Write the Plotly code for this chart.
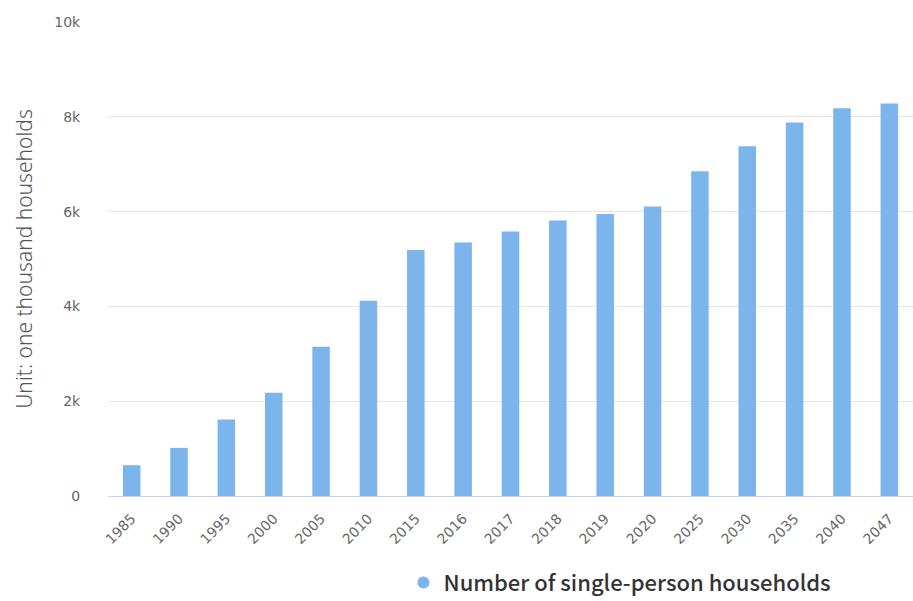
import plotly.graph_objects as go

years = ["1985", "1990", "1995", "2000", "2005", "2010", "2015", "2016", "2017",
         "2018", "2019", "2020", "2025", "2030", "2035", "2040", "2047"]
households = [650, 1015, 1615, 2180, 3150, 4120, 5190, 5350, 5580, 5810, 5950,
              6110, 6850, 7380, 7880, 8180, 8280]
series_name = "Number of single-person households"
y_tickvals = [0, 2000, 4000, 6000, 8000, 10000]
y_ticktext = ["0", "2k", "4k", "6k", "8k", "10k"]
y_title = "Unit: one thousand households"

color = "#7cb5ec"

fig = go.Figure()
fig.add_trace(go.Bar(x=years, y=households, marker_color=color, marker_line_width=0,
                     showlegend=False, name=series_name))
fig.add_trace(go.Scatter(x=[None], y=[None], mode="markers", name=series_name,
                         marker=dict(symbol="circle", size=18, color=color)))

fig.update_layout(
    width=913, height=601,
    margin=dict(l=108, r=0, t=22, b=105, autoexpand=False),
    paper_bgcolor="white", plot_bgcolor="white",
    bargap=0.63,
    font=dict(family="DejaVu Sans, sans-serif", color="#666666"),
    showlegend=True,
    legend=dict(orientation="h", x=0.636, xanchor="center", y=-0.183, yanchor="middle",
                font=dict(size=22, color="#333333", family="Noto Sans CJK KR, Noto Sans, sans-serif",
                          weight=500),
                itemsizing="constant", borderwidth=0),
    xaxis=dict(type="category", tickangle=-45, tickfont=dict(size=14, color="#666666"),
               showline=True, linecolor="#ccd6eb", linewidth=1, showgrid=False,
               ticks="outside", ticklen=8, tickcolor="rgba(0,0,0,0)", automargin=False),
    yaxis=dict(range=[0, 10000], tickvals=y_tickvals, ticktext=y_ticktext,
               tickfont=dict(size=14, color="#666666"),
               showgrid=True, gridcolor="#e6e6e6", gridwidth=1, zeroline=False,
               ticks="outside", ticklen=24, tickcolor="rgba(0,0,0,0)", automargin=False,
               title=dict(text=y_title, font=dict(size=21, color="#555555",
                          family="Noto Sans, DejaVu Sans, sans-serif", weight=300), standoff=15)),
)

fig.write_html("out.html")
